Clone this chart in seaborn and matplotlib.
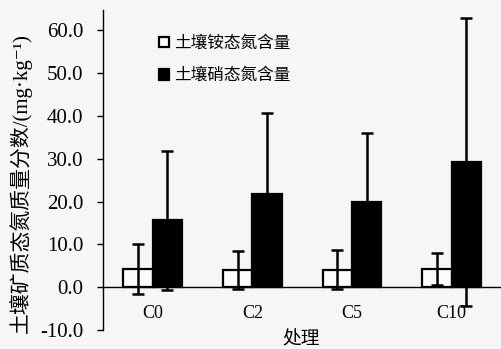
import matplotlib
matplotlib.use("Agg")
import matplotlib.pyplot as plt
import seaborn as sns
import pandas as pd
import numpy as np

# Treatments and soil mineral nitrogen (mean and SD, mg/kg)
categories = ["C0", "C2", "C5", "C10"]
series_names = ["土壤铵态氮含量", "土壤硝态氮含量"]
ammonium = [4.3, 4.0, 4.1, 4.2]
ammonium_err = [5.9, 4.5, 4.5, 3.7]
nitrate = [15.6, 21.7, 19.8, 29.3]
nitrate_err = [16.2, 19.0, 16.3, 33.6]
y_ticks = [-10, 0, 10, 20, 30, 40, 50, 60]

sns.set_theme(style="white")
fonts = ["Liberation Serif", "DejaVu Serif", "Noto Sans CJK SC"]
plt.rcParams["font.family"] = fonts
plt.rcParams["axes.unicode_minus"] = False

bg = "#f6f6f8"
df = pd.DataFrame({
    "处理": categories * 2,
    "value": ammonium + nitrate,
    "series": [series_names[0]] * 4 + [series_names[1]] * 4,
})

fig = plt.figure(figsize=(5.02, 3.49), dpi=100, facecolor=bg)
ax = fig.add_axes([0.205, 0.054, 0.794, 0.917])
ax.set_facecolor(bg)

sns.barplot(data=df, x="处理", y="value", hue="series", order=categories,
            hue_order=series_names, palette=["#fbfbfb", "#000000"],
            width=0.59, gap=0, errorbar=None, edgecolor="black",
            linewidth=1.6, saturation=1, ax=ax)

# Standard deviation whiskers on each bar
for container, errs in zip(ax.containers, [ammonium_err, nitrate_err]):
    xs = [p.get_x() + p.get_width() / 2 for p in container]
    hs = [p.get_height() for p in container]
    ax.errorbar(xs, hs, yerr=errs, fmt="none", ecolor="black",
                elinewidth=1.8, capsize=4.3, capthick=1.8, zorder=5)

ax.set_ylim(-10, 64.7)
ax.set_xlim(-0.5, 3.5)
ax.set_yticks(y_ticks)
ax.set_yticklabels([f"{v:.1f}" for v in y_ticks])

for s in ["top", "right"]:
    ax.spines[s].set_visible(False)
ax.spines["bottom"].set_position(("data", 0))
for s in ["left", "bottom"]:
    ax.spines[s].set_color("black")
    ax.spines[s].set_linewidth(1.0)

ax.tick_params(axis="y", direction="out", length=4.3, width=1.0,
               color="black", labelsize=15, pad=10, left=True)
ax.tick_params(axis="x", length=0, labelsize=13, pad=13)
for lab in ax.get_xticklabels() + ax.get_yticklabels():
    lab.set_color("black")

ax.set_xlabel("处理", fontsize=13.5, color="black", family=["Noto Sans CJK SC"])
ax.xaxis.set_label_coords(0.497, 0.006)
ax.set_ylabel("土壤矿质态氮质量分数/(mg·kg⁻¹)", fontsize=15, color="black")
ax.yaxis.set_label_coords(-0.178, 0.46)

leg = ax.legend(loc="upper left", bbox_to_anchor=(0.125, 0.94), frameon=False,
                fontsize=12, handlelength=0.6, handleheight=0.6,
                handletextpad=0.3, labelspacing=0.97, borderaxespad=0)
for t in leg.get_texts():
    t.set_color("black")

fig.savefig("out.png", dpi=100, facecolor=bg)
